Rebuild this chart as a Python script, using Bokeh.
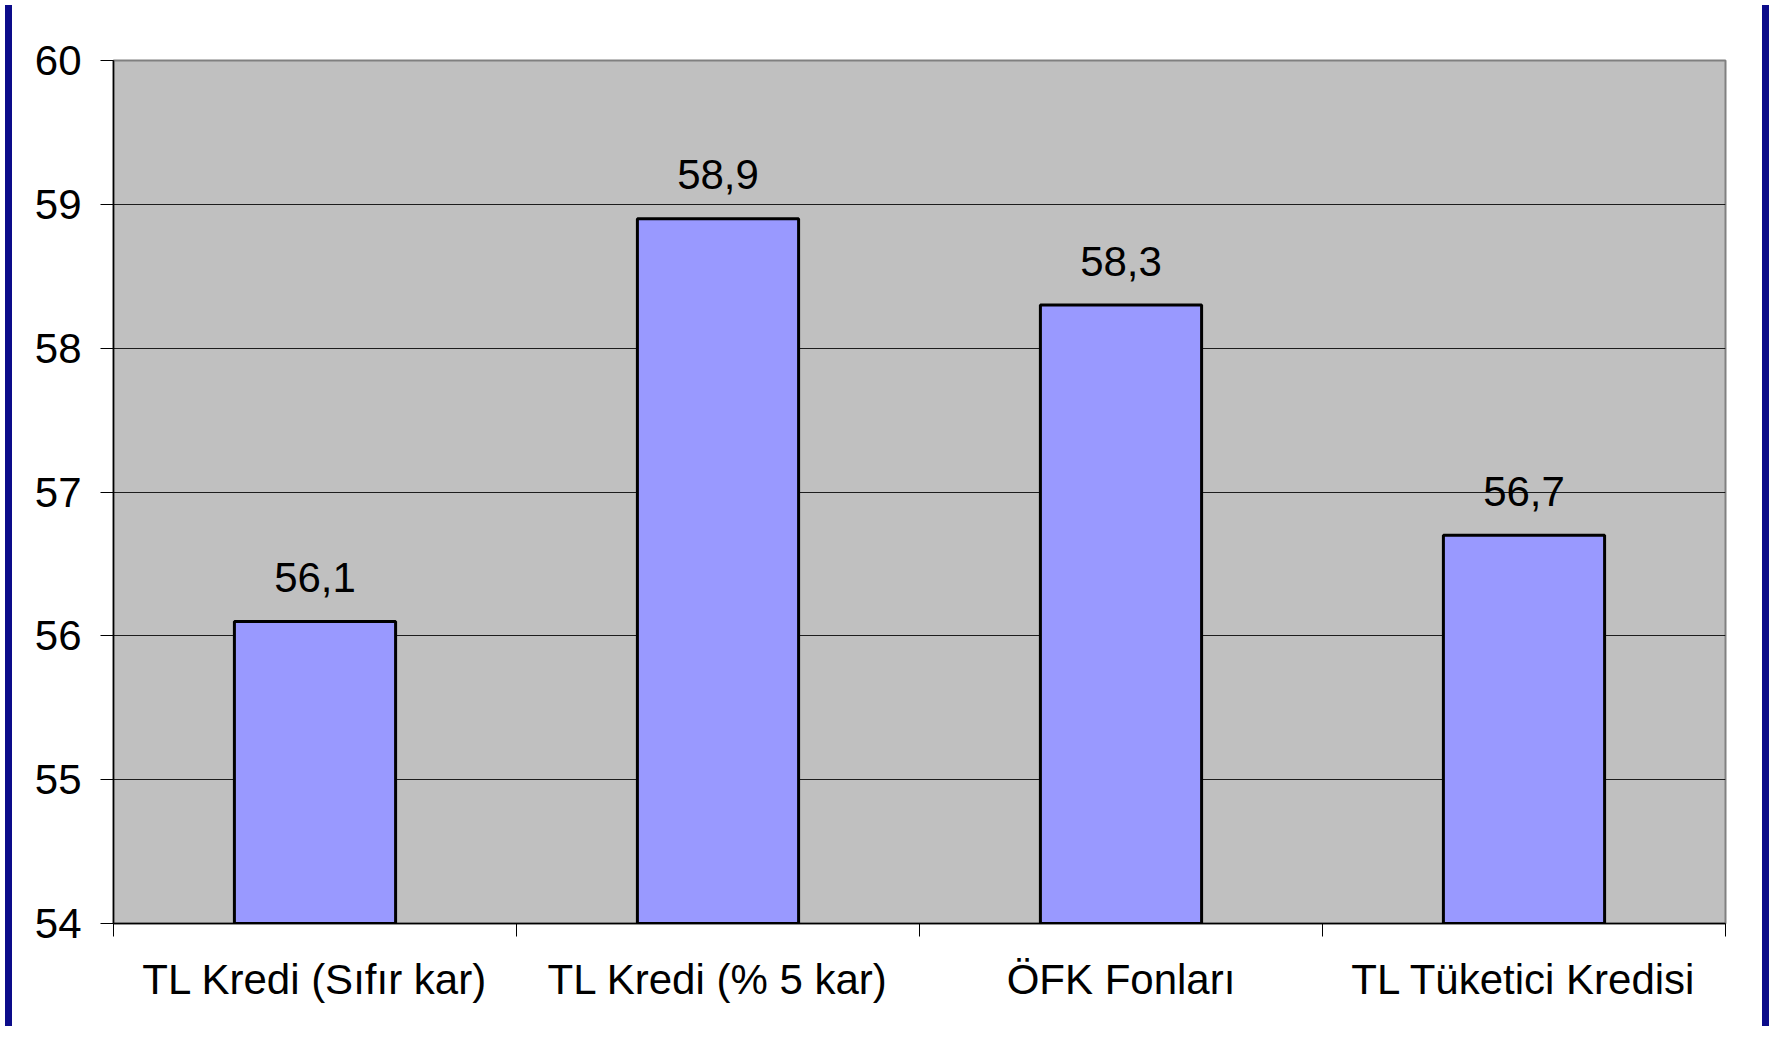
from bokeh.plotting import figure
from bokeh.models import ColumnDataSource, FixedTicker, Range1d, Div
from bokeh.layouts import row
from bokeh.core.properties import value
from bokeh.embed import file_html
from bokeh.resources import INLINE

categories = ["TL Kredi (Sıfır kar)", "TL Kredi (% 5 kar)", "ÖFK Fonları", "TL Tüketici Kredisi"]
values = [56.1, 58.9, 58.3, 56.7]
y_ticks = [54, 55, 56, 57, 58, 59, 60]

FONT = "Liberation Sans"
FS = "42px"

xs = [i + 0.5 for i in range(len(categories))]
labels = [f"{v:.1f}".replace(".", ",") for v in values]
src = ColumnDataSource(dict(x=xs, top=values, label=labels))

p = figure(width=1740, height=1021, output_backend="svg", toolbar_location=None,
           x_range=Range1d(0, len(categories)), y_range=Range1d(y_ticks[0], y_ticks[-1]),
           min_border_left=96, min_border_right=32, min_border_top=60, min_border_bottom=98)
p.background_fill_color = "#C0C0C0"
p.border_fill_color = "white"
p.outline_line_color = "#808080"
p.outline_line_width = 2

p.vbar(x="x", top="top", bottom=y_ticks[0], width=0.4, source=src,
       fill_color="#9999FF", line_color="black", line_width=3)
p.text(x="x", y="top", text="label", source=src, text_align="center",
       text_baseline="alphabetic", y_offset=-44, text_font=value(FONT),
       text_font_size=FS, text_color="black")

p.xgrid.visible = False
p.ygrid.ticker = FixedTicker(ticks=y_ticks)
p.ygrid.grid_line_color = "black"
p.ygrid.grid_line_width = 1
p.ygrid.grid_line_alpha = 0.85

ya = p.yaxis[0]
ya.ticker = FixedTicker(ticks=y_ticks)
ya.axis_line_color = "black"
ya.axis_line_width = 1.5
ya.major_tick_out = 13
ya.major_tick_in = 0
ya.major_tick_line_color = "black"
ya.minor_tick_line_color = None
ya.major_label_text_font = FONT
ya.major_label_text_font_size = FS
ya.major_label_text_color = "black"
ya.major_label_standoff = 19

xa = p.xaxis[0]
xa.ticker = FixedTicker(ticks=xs, minor_ticks=list(range(len(categories) + 1)))
xa.major_label_overrides = {x: c for x, c in zip(xs, categories)}
xa.axis_line_color = "black"
xa.axis_line_width = 1.5
xa.major_tick_out = 0
xa.major_tick_in = 0
xa.minor_tick_out = 13
xa.minor_tick_in = 0
xa.minor_tick_line_color = "black"
xa.major_label_text_font = FONT
xa.major_label_text_font_size = FS
xa.major_label_text_color = "black"
xa.major_label_standoff = 19

strip_style = {"background-color": "#0C0C8A"}
left = Div(text="", width=7, height=1021, styles=strip_style)
right = Div(text="", width=7, height=1021, styles=strip_style)
layout = row(left, p, right, spacing=0)

open("out.html", "w").write(file_html(layout, INLINE))
